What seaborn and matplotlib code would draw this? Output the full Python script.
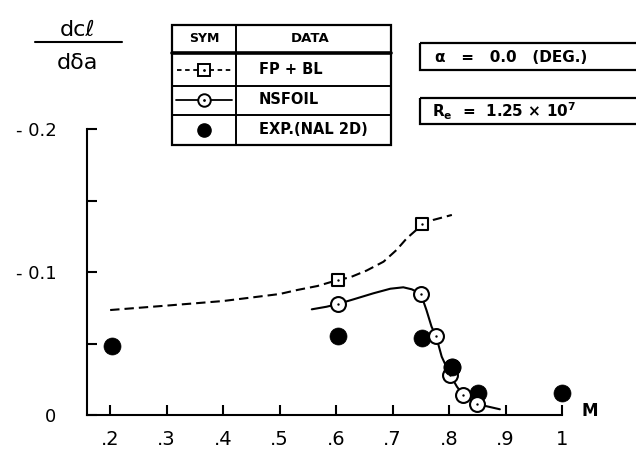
import matplotlib
matplotlib.use("Agg")
import matplotlib.pyplot as plt
import seaborn as sns
import pandas as pd
from matplotlib.patches import Rectangle
from matplotlib.lines import Line2D

# ---------------- data ----------------
# FP + BL: dashed curve and its square symbols
fpbl_curve_m = [0.20, 0.30, 0.40, 0.50, 0.531, 0.567, 0.603, 0.625, 0.654, 0.684, 0.707, 0.725, 0.740, 0.753, 0.772, 0.805]
fpbl_curve_v = [-0.0734, -0.0765, -0.0797, -0.0846, -0.0874, -0.0902, -0.0944, -0.0963, -0.1010, -0.1072, -0.1154, -0.1235, -0.1287, -0.1333, -0.1364, -0.1399]
fpbl_pts_m = [0.603, 0.753]
fpbl_pts_v = [-0.0944, -0.1333]

# NSFOIL: solid curve and its open circle symbols
ns_curve_m = [0.557, 0.583, 0.603, 0.631, 0.666, 0.696, 0.719, 0.734, 0.750, 0.760, 0.769, 0.777, 0.787, 0.802, 0.814, 0.825, 0.849, 0.890]
ns_curve_v = [-0.0739, -0.0757, -0.0776, -0.0809, -0.0851, -0.0883, -0.0893, -0.0879, -0.0847, -0.0734, -0.0618, -0.0552, -0.0408, -0.0280, -0.0198, -0.0140, -0.0077, -0.0040]
ns_pts_m = [0.603, 0.750, 0.777, 0.802, 0.825, 0.849]
ns_pts_v = [-0.0776, -0.0847, -0.0552, -0.0280, -0.0140, -0.0077]

# EXP (NAL 2D): filled circles
exp_m = [0.2035, 0.603, 0.752, 0.805, 0.852, 1.00]
exp_v = [-0.0483, -0.0550, -0.0536, -0.0333, -0.0152, -0.0154]

x_ticks = [0.2, 0.3, 0.4, 0.5, 0.6, 0.7, 0.8, 0.9, 1.0]
x_labels = [".2", ".3", ".4", ".5", ".6", ".7", ".8", ".9", "1"]
y_ticks = [0.0, -0.1, -0.2]
y_labels = ["0", "- 0.1", "- 0.2"]
y_minor = [-0.05, -0.15]

legend_names = ["FP + BL", "NSFOIL", "EXP.(NAL 2D)"]

# ---------------- styling ----------------
sns.set_style("white")
plt.rcParams['font.family'] = ['DejaVu Sans']
plt.rcParams['text.color'] = 'black'
plt.rcParams['axes.labelcolor'] = 'black'
plt.rcParams['xtick.color'] = 'black'
plt.rcParams['ytick.color'] = 'black'
plt.rcParams['axes.edgecolor'] = 'black'

W, H = 636, 454
fig = plt.figure(figsize=(W / 100, H / 100), dpi=100)
ax = fig.add_axes([87 / W, (H - 415) / H, 475 / W, 286 / H])

fp_df = pd.DataFrame({"M": fpbl_curve_m, "v": fpbl_curve_v})
ns_df = pd.DataFrame({"M": ns_curve_m, "v": ns_curve_v})

sns.lineplot(data=fp_df, x="M", y="v", ax=ax, color="black", lw=1.5,
             sort=False, estimator=None, linestyle=(0, (4.5, 2.4)))
sns.lineplot(data=ns_df, x="M", y="v", ax=ax, color="black", lw=1.5,
             sort=False, estimator=None)

sns.scatterplot(x=exp_m, y=exp_v, ax=ax, s=150, color="black", edgecolor="black",
                linewidth=0.5, zorder=3, clip_on=False)
sns.scatterplot(x=fpbl_pts_m, y=fpbl_pts_v, ax=ax, marker="s", s=85, color="white",
                edgecolor="black", linewidth=1.5, zorder=4, clip_on=False)
sns.scatterplot(x=ns_pts_m, y=ns_pts_v, ax=ax, marker="o", s=115, color="white",
                edgecolor="black", linewidth=1.5, zorder=4, clip_on=False)
sns.scatterplot(x=fpbl_pts_m + ns_pts_m, y=fpbl_pts_v + ns_pts_v, ax=ax, s=3,
                color="black", edgecolor="black", linewidth=0, zorder=5, clip_on=False)
# at M = .8 the measured point lies over the NSFOIL symbol
sns.scatterplot(x=exp_m[3:4], y=exp_v[3:4], ax=ax, s=150, color="black", edgecolor="black",
                linewidth=0.5, zorder=6, clip_on=False)

ax.set_xlim(0.159, 1.0)
ax.set_ylim(0.0, -0.2)
ax.set_xticks(x_ticks)
ax.set_xticklabels(x_labels, fontsize=14)
ax.set_yticks(y_ticks)
ax.set_yticklabels(y_labels, fontsize=13)
ax.set_yticks(y_minor, minor=True)
ax.tick_params(axis="both", which="both", direction="in", width=1.5, length=7,
               bottom=True, left=True, top=False, right=False)
ax.tick_params(axis="x", pad=11)
ax.tick_params(axis="y", pad=22)
ax.set_xlabel("")
ax.set_ylabel("")
for s in ["top", "right"]:
    ax.spines[s].set_visible(False)
for s in ["left", "bottom"]:
    ax.spines[s].set_linewidth(1.5)
ax.grid(False)

# ---------------- overlay in pixel coordinates ----------------
ov = fig.add_axes([0, 0, 1, 1], zorder=10)
ov.set_xlim(0, W)
ov.set_ylim(H, 0)
ov.axis("off")
ov.patch.set_alpha(0)

# y label fraction
ov.text(78, 30, "dcℓ", fontsize=16, ha="center", va="center")
ov.add_line(Line2D([35, 122], [42, 42], color="black", lw=1.5))
ov.text(77, 63, "dδa", fontsize=16, ha="center", va="center")

# x label
ov.text(590, 411, "M", fontsize=12, fontweight="bold", ha="center", va="center")

# legend table
tl, tr, tt, tb = 172, 391, 25, 145
rows = [25, 53, 86, 115, 145]
colx = 236
ov.add_patch(Rectangle((tl, tt), tr - tl, tb - tt, fill=False, lw=1.6, ec="black"))
ov.add_line(Line2D([tl, tr], [rows[1], rows[1]], color="black", lw=2.6))
for r in rows[2:4]:
    ov.add_line(Line2D([tl, tr], [r, r], color="black", lw=1.4))
ov.add_line(Line2D([colx, colx], [tt, tb], color="black", lw=1.4))
ov.text(204, 39, "SYM", fontsize=9, fontweight="bold", ha="center", va="center")
ov.text(310, 39, "DATA", fontsize=9.5, fontweight="bold", ha="center", va="center")
text_rows = [70, 100, 130]
for name, yy in zip(legend_names, text_rows):
    ov.text(259, yy, name, fontsize=10.5, fontweight="bold", ha="left", va="center")
# symbols
ov.add_line(Line2D([177, 232], [70, 70], color="black", lw=1.3, linestyle=(0, (2.5, 2))))
ov.plot([204], [70], marker="s", ms=8, mfc="white", mec="black", mew=1.4)
ov.plot([204], [70], marker=".", ms=2, color="black")
ov.add_line(Line2D([176, 232], [100, 100], color="black", lw=1.3))
ov.plot([204], [100], marker="o", ms=9, mfc="white", mec="black", mew=1.4)
ov.plot([204], [100], marker=".", ms=2, color="black")
ov.plot([204], [130], marker="o", ms=9.5, mfc="black", mec="black")

# condition boxes (cut off at the right edge)
ov.add_patch(Rectangle((420, 43), 260, 27, fill=False, lw=1.6, ec="black", clip_on=True))
ov.text(435, 57, "α   =   0.0   (DEG.)", fontsize=11, fontweight="bold", ha="left", va="center")
ov.add_patch(Rectangle((420, 98), 260, 26, fill=False, lw=1.6, ec="black", clip_on=True))
ov.text(432, 111, r"R$_\mathbf{e}$  =  1.25 × 10$^\mathbf{7}$", fontsize=11, fontweight="bold",
        ha="left", va="center")

fig.savefig("out.png", dpi=100)
